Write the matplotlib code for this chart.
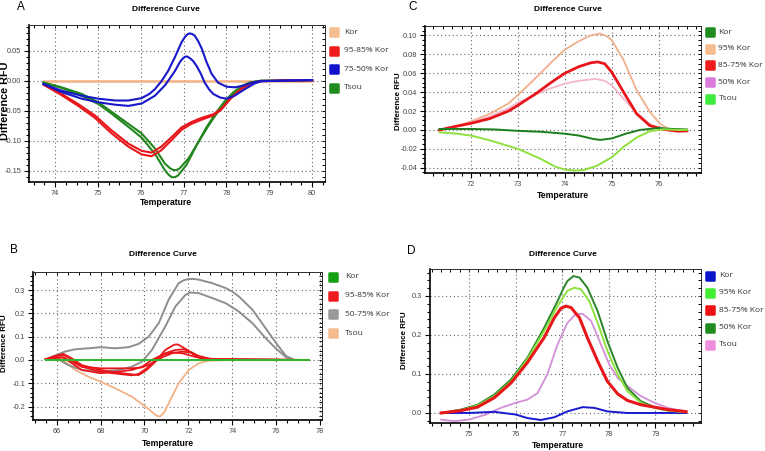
import matplotlib
matplotlib.use("Agg")
import matplotlib.pyplot as plt
from matplotlib.ticker import MultipleLocator, FormatStrFormatter
from matplotlib.markers import MarkerStyle
from matplotlib.lines import Line2D

plt.rcParams['font.family'] = ['Liberation Sans', 'DejaVu Sans']
plt.rcParams['axes.unicode_minus'] = False

W, H = 765, 451

# ---- panel A : Kor / Tsou, 4 groups ----
a_kor_t = [73.73, 80.0]
a_kor_y = [0.0, 0.0]
a_blue1_t = [73.73, 74.15, 74.62, 75.01, 75.40, 75.71, 76.02, 76.20, 76.33, 76.48, 76.64, 76.80, 76.95,
             77.03, 77.09, 77.14, 77.20, 77.26, 77.34, 77.42, 77.53, 77.65, 77.80, 78.00, 78.20, 78.40, 78.60,
             78.80, 79.20, 80.00]
a_blue1_y = [-0.0055, -0.0166, -0.025, -0.030, -0.033, -0.033, -0.029, -0.022, -0.014, -0.001, 0.0166, 0.040, 0.064,
             0.073, 0.0775, 0.079, 0.078, 0.075, 0.066, 0.054, 0.032, 0.012, -0.003, -0.010, -0.011, -0.008, -0.003,
             -0.0005, 0.0, 0.001]
a_blue2_t = [73.73, 74.15, 74.62, 75.01, 75.40, 75.71, 76.02, 76.33, 76.56, 76.70, 76.80, 76.92, 76.98, 77.03,
             77.08, 77.14, 77.22, 77.30, 77.40, 77.49, 77.60, 77.69, 77.85, 78.00, 78.19, 78.43, 78.66, 78.81,
             79.20, 80.00]
a_blue2_y = [-0.0055, -0.019, -0.030, -0.036, -0.040, -0.042, -0.038, -0.025, -0.008, 0.006, 0.0166, 0.032, 0.037, 0.040,
             0.0405, 0.038, 0.033, 0.025, 0.012, -0.003, -0.015, -0.022, -0.028, -0.030, -0.025, -0.014, -0.0044, -0.001,
             0.0, 0.001]
a_red_t = [73.73, 74.15, 74.54, 74.93, 75.32, 75.71, 76.02, 76.25, 76.48, 76.72, 76.95, 77.18, 77.42, 77.69,
           77.88, 78.11, 78.35, 78.58, 78.81, 79.20, 80.00]
a_red1_y = [-0.0066, -0.022, -0.039, -0.058, -0.083, -0.105, -0.117, -0.120, -0.110, -0.094, -0.078, -0.069, -0.062, -0.056,
            -0.047, -0.028, -0.013, -0.004, -0.0005, 0.0, 0.001]
a_red2_y = [-0.0066, -0.024, -0.042, -0.062, -0.088, -0.110, -0.123, -0.126, -0.116, -0.099, -0.082, -0.072, -0.065, -0.058,
            -0.048, -0.029, -0.014, -0.004, -0.0005, 0.0, 0.001]
a_green1_t = [73.73, 74.15, 74.62, 75.01, 75.32, 75.71, 76.02, 76.33, 76.56, 76.68, 76.76, 76.84, 76.91, 77.11, 77.34,
              77.57, 77.76, 77.95, 78.15, 78.35, 78.55, 78.81, 79.20, 80.00]
a_green1_y = [-0.003, -0.011, -0.022, -0.036, -0.052, -0.072, -0.088, -0.113, -0.138, -0.146, -0.149, -0.149, -0.146, -0.130,
              -0.103, -0.076, -0.056, -0.038, -0.022, -0.010, -0.003, 0.0, 0.0, 0.001]
a_green2_t = [73.73, 74.15, 74.62, 75.01, 75.32, 75.71, 76.02, 76.33, 76.56, 76.65, 76.72, 76.80, 76.87, 77.07, 77.30,
              77.53, 77.77, 77.95, 78.15, 78.35, 78.55, 78.81, 79.20, 80.00]
a_green2_y = [-0.003, -0.012, -0.025, -0.039, -0.055, -0.077, -0.095, -0.122, -0.149, -0.157, -0.161, -0.161, -0.158, -0.140,
              -0.108, -0.078, -0.052, -0.035, -0.020, -0.009, -0.003, 0.0, 0.0, 0.001]
a_labels = ['Kor', '95-85% Kor', '75-50% Kor', 'Tsou']

# ---- panel B ----
b_kor_t = [65.5, 77.5]
b_kor_y = [0.0, 0.0]
b_gray1_t = [65.5, 66.0, 66.38, 66.84, 67.45, 68.0, 68.67, 69.28, 69.73, 70.19, 70.65, 71.1, 71.56, 71.8, 72.02, 72.25,
             72.48, 73.09, 73.7, 74.0, 74.3, 74.92, 75.53, 75.98, 76.44, 76.82, 77.5]
b_gray1_y = [0.003, 0.022, 0.036, 0.046, 0.050, 0.055, 0.050, 0.055, 0.069, 0.100, 0.158, 0.259, 0.330, 0.343, 0.348, 0.348,
             0.345, 0.330, 0.309, 0.294, 0.273, 0.216, 0.135, 0.075, 0.018, 0.0, 0.0]
b_gray2_t = [65.5, 66.0, 66.53, 67.14, 68.0, 68.82, 69.43, 69.89, 70.34, 70.95, 71.41, 71.87, 72.1, 72.48, 73.09,
             73.7, 74.3, 74.92, 75.53, 75.98, 76.44, 76.82, 77.5]
b_gray2_y = [0.003, 0.007, -0.022, -0.043, -0.050, -0.043, -0.029, -0.007, 0.043, 0.144, 0.230, 0.280, 0.290, 0.287, 0.266,
             0.244, 0.208, 0.158, 0.093, 0.050, 0.012, 0.0, 0.0]
b_tsou_t = [65.5, 66.0, 66.38, 66.84, 67.45, 68.0, 68.67, 69.43, 70.04, 70.5, 70.62, 70.72, 70.9, 71.1, 71.56, 72.02,
            72.48, 72.94, 74.0, 77.5]
b_tsou_y = [0.003, 0.01, -0.007, -0.043, -0.072, -0.093, -0.122, -0.158, -0.200, -0.236, -0.242, -0.242, -0.225, -0.187, -0.100, -0.043,
            -0.014, -0.003, 0.0, 0.0]
b_red1_t = [65.5, 65.92, 66.3, 66.69, 67.14, 68.0, 68.82, 69.43, 69.73, 70.1, 70.5, 70.95, 71.34, 71.45, 71.56, 71.95,
            72.33, 72.78, 73.4, 77.5]
b_red1_y = [0.003, 0.017, 0.026, 0.007, -0.022, -0.043, -0.055, -0.062, -0.065, -0.043, -0.007, 0.043, 0.065, 0.067, 0.065, 0.043,
            0.017, 0.004, 0.003, 0.0]
b_red2_t = [65.5, 65.92, 66.3, 66.69, 67.14, 68.0, 68.82, 69.43, 69.73, 70.1, 70.5, 70.95, 71.41, 71.79, 72.17,
            72.55, 73.09, 77.5]
b_red2_y = [0.003, 0.014, 0.022, 0.003, -0.029, -0.050, -0.060, -0.066, -0.060, -0.036, 0.0, 0.029, 0.043, 0.046, 0.032,
            0.011, 0.003, 0.0]
b_red3_t = [65.5, 65.92, 66.3, 66.69, 67.14, 68.0, 68.82, 69.43, 69.89, 70.34, 70.8, 71.26, 71.72, 72.1, 72.48,
            72.94, 73.4, 77.5]
b_red3_y = [0.003, 0.011, 0.011, -0.007, -0.029, -0.036, -0.036, -0.036, -0.032, -0.014, 0.011, 0.029, 0.036, 0.032, 0.017,
            0.006, 0.003, 0.0]
b_red4_t = [65.5, 65.92, 66.3, 66.69, 67.14, 68.0, 68.82, 69.43, 69.89, 70.34, 70.8, 71.26, 71.72, 72.17, 72.63,
            73.09, 77.5]
b_red4_y = [0.003, 0.009, 0.011, -0.014, -0.043, -0.057, -0.050, -0.043, -0.029, 0.0, 0.022, 0.032, 0.029, 0.017, 0.006,
            0.002, 0.0]
b_labels = ['Kor', '95-85% Kor', '50-75% Kor', 'Tsou']

# ---- panel C ----
c_kor_t = [71.33, 72.0, 72.5, 73.0, 73.5, 74.0, 74.3, 74.6, 74.75, 75.0, 75.3, 75.6, 76.0, 76.3, 76.6]
c_kor_y = [0.001, 0.001, 0.0005, -0.001, -0.002, -0.004, -0.006, -0.0095, -0.0106, -0.009, -0.004, 0.0, 0.002, 0.001, 0.0005]
c_95_t = [71.33, 71.7, 72.0, 72.4, 72.8, 73.0, 73.4, 73.7, 74.0, 74.3, 74.55, 74.75, 74.9, 75.0, 75.25,
          75.53, 75.81, 76.02, 76.23, 76.44, 76.6]
c_95_y = [0.0, 0.004, 0.009, 0.017, 0.028, 0.037, 0.056, 0.071, 0.085, 0.094, 0.100, 0.102, 0.099, 0.095, 0.074,
          0.042, 0.019, 0.007, 0.0, -0.0015, -0.001]
c_8575_t = [71.33, 71.7, 72.0, 72.4, 72.8, 73.0, 73.4, 73.7, 74.0, 74.3, 74.55, 74.7, 74.85, 75.0, 75.25,
            75.53, 75.81, 76.1, 76.4, 76.6]
c_8575_y = [0.0, 0.004, 0.007, 0.012, 0.020, 0.026, 0.039, 0.050, 0.060, 0.067, 0.071, 0.072, 0.070, 0.061, 0.040,
            0.017, 0.0046, 0.0007, -0.0014, -0.001]
c_50_t = [71.33, 72.0, 72.4, 72.8, 73.0, 73.4, 73.7, 74.0, 74.3, 74.65, 74.85, 75.0, 75.25, 75.53, 75.81,
          76.02, 76.3, 76.6]
c_50_y = [0.0, 0.008, 0.014, 0.023, 0.029, 0.038, 0.044, 0.049, 0.052, 0.054, 0.052, 0.047, 0.033, 0.018, 0.006,
          0.001, -0.0013, -0.001]
c_tsou_t = [71.33, 71.7, 72.0, 72.4, 73.0, 73.5, 73.8, 74.0, 74.2, 74.4, 74.68, 75.0, 75.25, 75.53, 75.81,
            76.1, 76.4, 76.6]
c_tsou_y = [-0.0025, -0.004, -0.006, -0.011, -0.020, -0.031, -0.039, -0.042, -0.043, -0.0425, -0.038, -0.029, -0.018, -0.008, -0.0014,
            0.0007, 0.0, 0.0]
c_labels = ['Kor', '95% Kor', '85-75% Kor', '50% Kor', 'Tsou']

# ---- panel D ----
d_kor_t = [74.4, 75.0, 75.54, 76.0, 76.25, 76.54, 76.83, 77.11, 77.44, 77.69, 77.97, 78.4, 79.66]
d_kor_y = [0.0, 0.0, 0.003, -0.004, -0.013, -0.018, -0.011, 0.004, 0.015, 0.013, 0.004, 0.0, 0.0]
d_50_t = [74.4, 74.82, 75.18, 75.54, 75.9, 76.25, 76.61, 76.9, 77.02, 77.11, 77.24, 77.37, 77.54, 77.76, 77.97,
          78.19, 78.4, 78.69, 78.98, 79.27, 79.66]
d_50_y = [0.0, 0.0086, 0.021, 0.047, 0.086, 0.141, 0.218, 0.287, 0.318, 0.338, 0.351, 0.347, 0.321, 0.261, 0.184,
          0.116, 0.064, 0.030, 0.015, 0.006, 0.002]
d_95_t = [74.4, 74.82, 75.18, 75.54, 75.9, 76.25, 76.61, 76.9, 77.11, 77.26, 77.4, 77.58, 77.76, 77.97, 78.19,
          78.4, 78.69, 78.98, 79.27, 79.66]
d_95_y = [0.0, 0.007, 0.019, 0.043, 0.081, 0.137, 0.210, 0.274, 0.313, 0.321, 0.317, 0.287, 0.231, 0.159, 0.099,
          0.056, 0.026, 0.013, 0.006, 0.002]
d_8575_t = [74.4, 74.82, 75.18, 75.54, 75.9, 76.25, 76.61, 76.83, 76.97, 77.08, 77.19, 77.37, 77.54, 77.76, 77.97,
            78.19, 78.4, 78.69, 78.98, 79.27, 79.66]
d_8575_y = [0.0, 0.006, 0.015, 0.039, 0.077, 0.129, 0.193, 0.244, 0.268, 0.274, 0.270, 0.244, 0.193, 0.133, 0.081,
            0.049, 0.032, 0.021, 0.015, 0.0086, 0.0034]
d_tsou_t = [74.4, 74.68, 75.0, 75.36, 75.68, 76.0, 76.25, 76.47, 76.68, 76.9, 77.11, 77.29, 77.44, 77.62, 77.83,
            78.01, 78.19, 78.4, 78.69, 78.98, 79.27, 79.66]
d_tsou_y = [-0.017, -0.021, -0.017, -0.004, 0.013, 0.026, 0.034, 0.051, 0.099, 0.176, 0.231, 0.253, 0.254, 0.236, 0.176,
            0.124, 0.090, 0.069, 0.043, 0.026, 0.013, 0.003]
d_labels = ['Kor', '95% Kor', '85-75% Kor', '50% Kor', 'Tsou']

PEACH = '#F4B183'
RED = '#E8161B'
BLUE = '#1818C8'
DGREEN = '#23861F'
GRAY = '#8E8E8E'


def fx(x):
    return x / W


def fy(y):
    return 1 - y / H


def make_axes(left, top, right, bottom):
    return fig.add_axes([fx(left), fy(bottom), (right - left) / W, (bottom - top) / H])


def style(ax, xlim, ylim, xmaj, xmin, ymaj, ymin, yfmt):
    ax.set_xlim(*xlim)
    ax.set_ylim(*ylim)
    ax.xaxis.set_major_locator(MultipleLocator(xmaj))
    ax.xaxis.set_minor_locator(MultipleLocator(xmin))
    ax.yaxis.set_major_locator(MultipleLocator(ymaj))
    ax.yaxis.set_minor_locator(MultipleLocator(ymin))
    ax.xaxis.set_major_formatter(FormatStrFormatter('%d'))
    ax.yaxis.set_major_formatter(FormatStrFormatter(yfmt))
    ax.grid(True, which='major', color='#666666', lw=0.8, ls=(0, (1, 2.5)))
    ax.tick_params(which='both', direction='out', colors='black', labelcolor='#444444',
                   labelsize=5.3, width=0.8, pad=2)
    ax.tick_params(which='major', length=3.5)
    ax.tick_params(which='minor', length=2)
    for s in ['left', 'bottom']:
        ax.spines[s].set_linewidth(1.2)
    for s in ['top', 'right']:
        ax.spines[s].set_linewidth(0.6)
        ax.spines[s].set_color('#333333')
    top = ax.secondary_xaxis('top')
    top.xaxis.set_major_locator(MultipleLocator(xmaj))
    top.xaxis.set_minor_locator(MultipleLocator(xmin))
    top.tick_params(which='both', direction='in', labeltop=False, length=2, width=0.7)
    top.spines['top'].set_linewidth(0.6)
    right = ax.secondary_yaxis('right')
    right.yaxis.set_major_locator(MultipleLocator(ymaj))
    right.yaxis.set_minor_locator(MultipleLocator(ymin))
    right.tick_params(which='both', direction='in', labelright=False, length=2, width=0.7)
    right.spines['right'].set_linewidth(0.6)


def texts(letter, lx, ly, cx, ty, xy_lab, ylx, yly, ysize=5.8):
    fig.text(fx(lx), fy(ly), letter, fontsize=8.5, ha='center', va='center')
    fig.text(fx(cx), fy(ty), 'Difference Curve', fontsize=6, fontweight='bold', ha='center', va='center')
    fig.text(fx(xy_lab[0]), fy(xy_lab[1]), 'Temperature', fontsize=6.2, fontweight='bold', ha='center', va='center')
    fig.text(fx(ylx), fy(yly), 'Difference RFU', fontsize=ysize, fontweight='bold', rotation=90,
             ha='center', va='center')


def legend(sq_x, txt_x, ys, labels, colors):
    ms = MarkerStyle('s', joinstyle='round')
    for y, lab, col in zip(ys, labels, colors):
        fig.add_artist(Line2D([fx(sq_x)], [fy(y)], marker=ms, ms=5.4, mew=1.8, color=col,
                              mec=col, transform=fig.transFigure))
        fig.text(fx(txt_x), fy(y), lab, fontsize=6, color='#333333', ha='left', va='center',
                 family=['Open Sans', 'DejaVu Sans'])


fig = plt.figure(figsize=(W / 100, H / 100), dpi=100)

# A
axA = make_axes(29, 25, 325, 182)
style(axA, (73.39, 80.3), (-0.169, 0.093), 1, 0.25, 0.05, 0.01, '%.2f')
axA.plot(a_kor_t, a_kor_y, color=PEACH, lw=1.8)
axA.plot(a_green1_t, a_green1_y, color=DGREEN, lw=1.5)
axA.plot(a_green2_t, a_green2_y, color=DGREEN, lw=1.5)
axA.plot(a_red_t, a_red1_y, color=RED, lw=1.5)
axA.plot(a_red_t, a_red2_y, color=RED, lw=1.5)
axA.plot(a_blue1_t, a_blue1_y, color=BLUE, lw=1.5)
axA.plot(a_blue2_t, a_blue2_y, color=BLUE, lw=1.5)
texts('A', 21, 7, 166, 9.3, (166, 202.5), 5, 101, ysize=7.8)
legend(334, 344, [32.3, 51, 69.3, 87.7], a_labels, ['#F6BE90', '#EE1C1C', '#1111CC', '#1E8C1E'])

# C
axC = make_axes(425, 26, 701, 173)
style(axC, (71.02, 76.9), (-0.0456, 0.11), 1, 0.2, 0.02, 0.005, '%.2f')
axC.plot(c_95_t, c_95_y, color='#EFB08A', lw=1.3)
axC.plot(c_50_t, c_50_y, color='#F3B7C9', lw=1.3)
axC.plot(c_8575_t, c_8575_y, color=RED, lw=2.0)
axC.plot(c_kor_t, c_kor_y, color='#1E7D1E', lw=1.4)
axC.plot(c_tsou_t, c_tsou_y, color='#8EE03E', lw=1.4)
texts('C', 412.5, 6.5, 568, 9.3, (563, 195.7), 398, 101)
legend(709.5, 718.5, [32.3, 48.7, 65.3, 82, 98.7], c_labels,
       ['#1E8C1E', '#F5BC90', '#EE1C1C', '#DA7ADA', '#3DEB3D'])

# B
axB = make_axes(33, 272, 322, 420)
style(axB, (64.92, 78.09), (-0.258, 0.378), 2, 0.5, 0.1, 0.02, '%.1f')
axB.plot(b_tsou_t, b_tsou_y, color=PEACH, lw=1.3)
axB.plot(b_gray1_t, b_gray1_y, color=GRAY, lw=1.4)
axB.plot(b_gray2_t, b_gray2_y, color=GRAY, lw=1.4)
axB.plot(b_red1_t, b_red1_y, color=RED, lw=1.3)
axB.plot(b_red2_t, b_red2_y, color=RED, lw=1.3)
axB.plot(b_red3_t, b_red3_y, color=RED, lw=1.3)
axB.plot(b_red4_t, b_red4_y, color=RED, lw=1.3)
axB.plot(b_kor_t, b_kor_y, color='#2DB82D', lw=1.4)
texts('B', 14, 250, 163, 254, (168, 443), 4.5, 343)
legend(333, 345, [276.7, 295.7, 314.3, 333.3], b_labels, ['#13A013', '#EE1C1C', '#999999', '#F5BC90'])

# D
axD = make_axes(430, 269, 701, 423)
style(axD, (74.16, 79.98), (-0.0257, 0.369), 1, 0.2, 0.1, 0.02, '%.1f')
axD.plot(d_tsou_t, d_tsou_y, color='#D38FD8', lw=1.3)
axD.plot(d_kor_t, d_kor_y, color='#1A1AD0', lw=1.4)
axD.plot(d_50_t, d_50_y, color='#2A862A', lw=1.4)
axD.plot(d_95_t, d_95_y, color='#8CE23C', lw=1.4)
axD.plot(d_8575_t, d_8575_y, color=RED, lw=2.2)
texts('D', 411, 251, 563, 254, (558, 446), 405, 340)
legend(709.5, 719, [275.7, 292.7, 310, 327.7, 345], d_labels,
       ['#0A14C8', '#44EE33', '#EE1111', '#1E8C1E', '#EE8EDE'])

fig.savefig('out.png', dpi=100)
